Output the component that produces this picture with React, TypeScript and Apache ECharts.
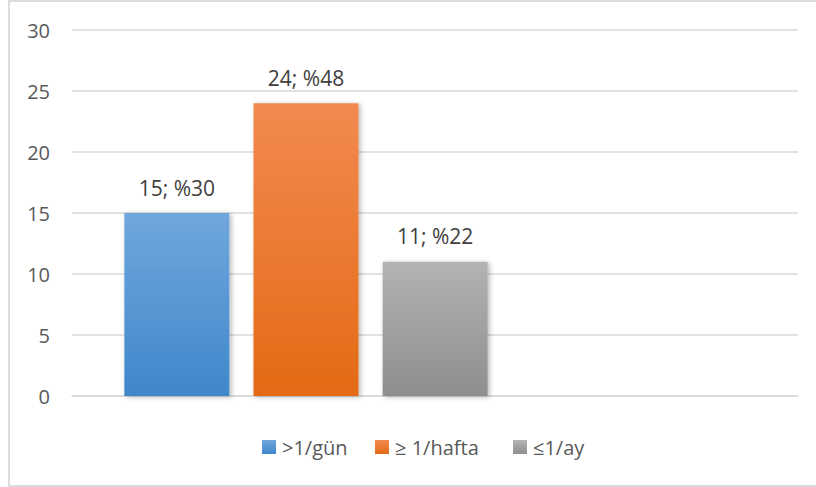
import React, { useEffect, useRef } from "react";
import * as echarts from "echarts";

// Frequency groups with counts and their share of the total
const seriesNames = [">1/gün", "≥ 1/hafta", "≤1/ay"];
const counts = [15, 24, 11];
const shares = [30, 48, 22];
const categories = [""];
const yTicks = { min: 0, max: 30, interval: 5 };

const gradients: [string, string][] = [
  ["#70a7dd", "#3f87ca"],
  ["#f28a50", "#e36a15"],
  ["#b3b3b3", "#8e8e8e"],
];

// Left edge of each legend entry
const legendLefts = [257, 370, 508];

const FONT = "'Open Sans', 'Noto Sans', sans-serif";

export default function App() {
  const ref = useRef<HTMLDivElement>(null);

  useEffect(() => {
    if (!ref.current) return;
    const chart = echarts.init(ref.current, undefined, { renderer: "svg" });

    const barSeries = seriesNames.map((name, i) => ({
      name,
      type: "bar" as const,
      xAxisIndex: 1,
      yAxisIndex: 1,
      barWidth: 105,
      barGap: "23%",
      data: [counts[i]],
      itemStyle: {
        color: new echarts.graphic.LinearGradient(0, 0, 0, 1, [
          { offset: 0, color: gradients[i][0] },
          { offset: 1, color: gradients[i][1] },
        ]),
        shadowBlur: 5,
        shadowColor: "rgba(0,0,0,0.28)",
        shadowOffsetX: 2,
        shadowOffsetY: 1,
      },
      label: {
        show: true,
        position: "top" as const,
        distance: 15,
        fontFamily: FONT,
        fontSize: 21,
        color: "#404040",
        formatter: () => `${counts[i]}; %${shares[i]}`,
      },
    }));

    const legends = seriesNames.map((name, i) => ({
      left: legendLefts[i],
      top: 432,
      itemWidth: 14,
      itemHeight: 14,
      itemGap: 0,
      icon: "rect",
      textStyle: { fontFamily: FONT, fontSize: 20, color: "#595959", padding: [0, 0, 0, 1] },
      data: [name],
    }));

    chart.setOption({
      animation: false,
      backgroundColor: "transparent",
      grid: [
        { left: 72, right: 18, top: 30, bottom: 91 },
        { left: 72, right: 276, top: 30, bottom: 91 },
      ],
      xAxis: [
        {
          type: "category",
          gridIndex: 0,
          data: categories,
          axisLine: { show: true, lineStyle: { color: "#d9d9d9", width: 1.5 } },
          axisTick: { show: false },
          axisLabel: { show: false },
        },
        {
          type: "category",
          gridIndex: 1,
          data: categories,
          axisLine: { show: false },
          axisTick: { show: false },
          axisLabel: { show: false },
        },
      ],
      yAxis: [
        {
          type: "value",
          gridIndex: 0,
          min: yTicks.min,
          max: yTicks.max,
          interval: yTicks.interval,
          axisLine: { show: false },
          axisTick: { show: false },
          splitLine: { lineStyle: { color: "#d9d9d9", width: 1.5 } },
          axisLabel: {
            margin: 22,
            fontFamily: FONT,
            fontSize: 20,
            color: "#595959",
          },
        },
        {
          type: "value",
          gridIndex: 1,
          min: yTicks.min,
          max: yTicks.max,
          interval: yTicks.interval,
          show: false,
        },
      ],
      legend: legends,
      series: barSeries,
    });

    return () => chart.dispose();
  }, []);

  return (
    <div style={{ position: "absolute", left: 0, top: 0, width: 816, height: 487, overflow: "hidden", background: "#fff" }}>
      <div
        style={{
          position: "absolute",
          left: 8,
          top: 0,
          width: 830,
          height: 487,
          border: "2px solid #dcdcdc",
          boxSizing: "border-box",
        }}
      />
      <div ref={ref} style={{ position: "absolute", left: 0, top: 0, width: 816, height: 487 }} />
    </div>
  );
}
